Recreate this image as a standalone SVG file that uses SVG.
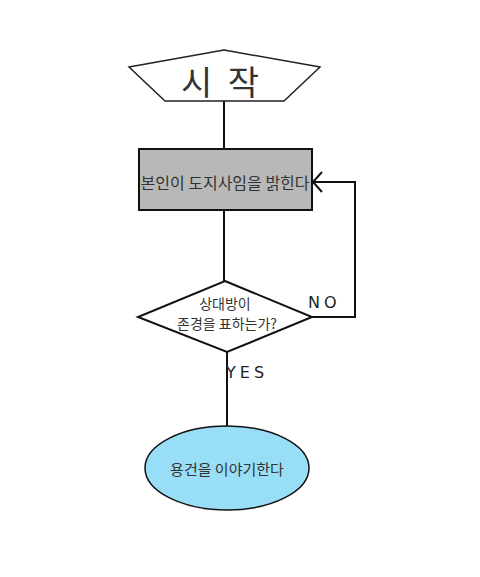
<svg xmlns="http://www.w3.org/2000/svg" width="480" height="577" viewBox="0 0 480 577">
<style>
.s{stroke:#111;stroke-width:2;fill:none}
.t{font-family:"Noto Sans CJK KR","Noto Sans",sans-serif;fill:#333;text-anchor:middle}
.l{font-family:"DejaVu Sans","Liberation Sans",sans-serif;fill:#222;font-size:16px;letter-spacing:4px}
</style>
<rect width="480" height="577" fill="#fff"/>
<g id="connectors">
<line class="s" x1="224" y1="101" x2="224" y2="149"/>
<line class="s" x1="224" y1="210" x2="224" y2="281"/>
<line class="s" x1="227" y1="352" x2="227" y2="426"/>
<polyline class="s" points="312,317 355,317 355,182 313,182"/>
<polyline class="s" points="322,172 313,182 322,192"/>
</g>
<g id="start">
<polygon points="224,50 320,67 284,101 165,101 129,67" fill="#fff" stroke="#222" stroke-width="1.5"/>
<text class="t" x="222" y="95" font-size="34" fill="#222" letter-spacing="4">시 작</text>
</g>
<g id="reveal">
<rect x="139" y="149" width="173" height="61" fill="#b8b8b8" stroke="#111" stroke-width="2"/>
<text class="t" x="225" y="189" font-size="16">본인이 도지사임을 밝힌다</text>
</g>
<g id="decision">
<polygon points="225,281 312,317 227,352 138,317" fill="#fff" stroke="#111" stroke-width="2"/>
<text class="t" x="225" y="309" font-size="14">상대방이</text>
<text class="t" x="227" y="329" font-size="14">존경을 표하는가?</text>
</g>
<g id="labels">
<text class="l" x="308" y="308">NO</text>
<text class="l" x="226" y="378">YES</text>
</g>
<g id="end">
<ellipse cx="227" cy="468" rx="82" ry="42" fill="#99def7" stroke="#111" stroke-width="1.5"/>
<text class="t" x="227" y="475" font-size="15">용건을 이야기한다</text>
</g>
</svg>
